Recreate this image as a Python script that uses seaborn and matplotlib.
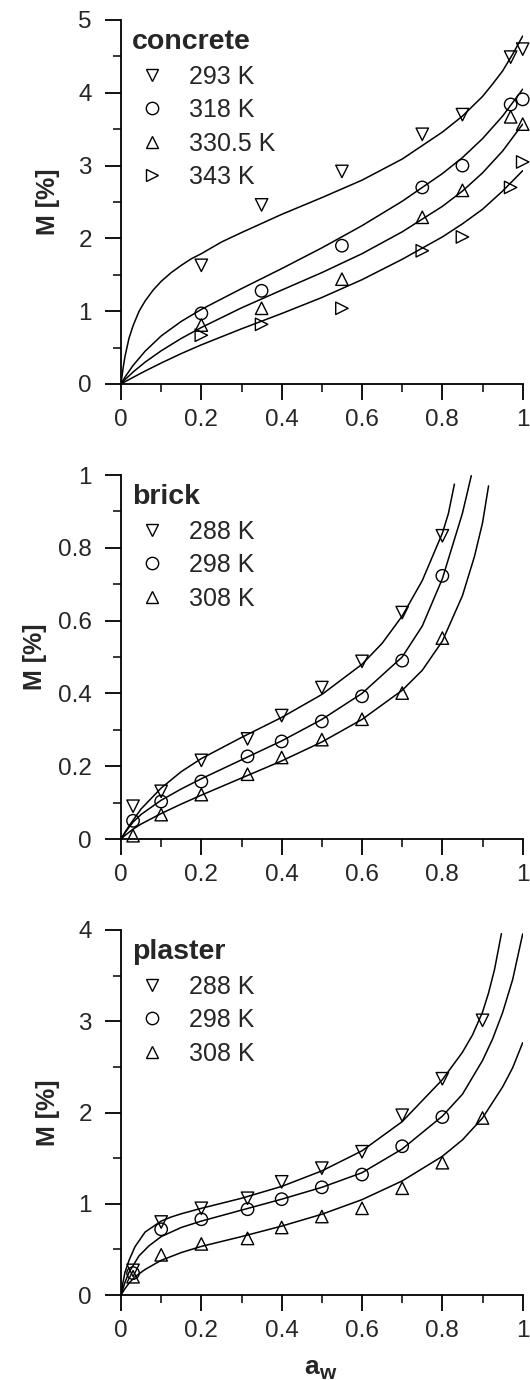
"""Moisture sorption isotherms of concrete, brick and plaster."""
import matplotlib

matplotlib.use("Agg")
import matplotlib.pyplot as plt
import pandas as pd
import seaborn as sns
from matplotlib.lines import Line2D
from matplotlib.ticker import FuncFormatter, MultipleLocator

# --- measured points -------------------------------------------------------
aw_concrete = [0.2, 0.35, 0.55, 0.75, 0.85, 0.97, 1.0]
m_concrete_293 = [1.63, 2.46, 2.92, 3.43, 3.70, 4.49, 4.60]
m_concrete_318 = [0.97, 1.28, 1.90, 2.70, 3.00, 3.84, 3.91]
m_concrete_330 = [0.81, 1.04, 1.44, 2.29, 2.66, 3.67, 3.57]
m_concrete_343 = [0.67, 0.82, 1.04, 1.83, 2.02, 2.70, 3.05]

aw_brick = [0.03, 0.1, 0.2, 0.315, 0.4, 0.5, 0.6, 0.7, 0.8]
m_brick_288 = [0.090, 0.131, 0.216, 0.275, 0.339, 0.416, 0.488, 0.622, 0.833]
m_brick_298 = [0.050, 0.103, 0.158, 0.227, 0.268, 0.323, 0.392, 0.490, 0.723]
m_brick_308 = [0.009, 0.067, 0.122, 0.178, 0.224, 0.273, 0.329, 0.401, 0.552]

aw_plaster = [0.03, 0.1, 0.2, 0.315, 0.4, 0.5, 0.6, 0.7, 0.8, 0.9]
aw_plaster_298 = [0.03, 0.1, 0.2, 0.315, 0.4, 0.5, 0.6, 0.7, 0.8]
m_plaster_288 = [0.27, 0.80, 0.95, 1.06, 1.24, 1.39, 1.57, 1.97, 2.37, 3.01]
m_plaster_298 = [0.24, 0.72, 0.83, 0.94, 1.05, 1.18, 1.32, 1.63, 1.95]
m_plaster_308 = [0.20, 0.44, 0.56, 0.62, 0.74, 0.86, 0.95, 1.17, 1.45, 1.94]

# --- fitted curves ----------------------------------------------------------
fit_concrete_293_x = [0, 0.005, 0.01, 0.02, 0.03, 0.045, 0.06, 0.08, 0.1,
                      0.125, 0.15, 0.175, 0.2, 0.25, 0.3, 0.4, 0.5, 0.6, 0.7,
                      0.8, 0.85, 0.9, 0.925, 0.95, 0.975, 1.0]
fit_concrete_293 = [0, 0.21, 0.38, 0.63, 0.80, 1.00, 1.14, 1.29, 1.41, 1.53,
                    1.63, 1.72, 1.79, 1.95, 2.08, 2.33, 2.56, 2.80, 3.09,
                    3.46, 3.68, 3.95, 4.12, 4.30, 4.53, 4.78]
fit_concrete_x = [0, 0.005, 0.01, 0.03, 0.06, 0.1, 0.15, 0.2, 0.3, 0.4, 0.5,
                  0.6, 0.7, 0.8, 0.85, 0.9, 0.95, 1.0]
fit_concrete_318 = [0, 0.05, 0.095, 0.255, 0.45, 0.66, 0.86, 1.025, 1.31,
                    1.585, 1.87, 2.175, 2.51, 2.89, 3.11, 3.37, 3.68, 4.05]
fit_concrete_330 = [0, 0.03, 0.06, 0.164, 0.30, 0.456, 0.626, 0.776, 1.046,
                    1.29, 1.53, 1.79, 2.09, 2.44, 2.65, 2.90, 3.20, 3.57]
fit_concrete_343 = [0, 0.016, 0.031, 0.091, 0.178, 0.288, 0.418, 0.538,
                    0.758, 0.968, 1.188, 1.433, 1.713, 2.02, 2.20, 2.40,
                    2.65, 2.93]

fit_brick_288_x = [0, 0.01, 0.02, 0.05, 0.1, 0.15, 0.2, 0.3, 0.4, 0.5, 0.6,
                   0.65, 0.7, 0.75, 0.8, 0.815, 0.83]
fit_brick_288 = [0, 0.0185, 0.036, 0.0825, 0.14, 0.185, 0.221, 0.279, 0.334,
                 0.397, 0.48, 0.5375, 0.6125, 0.71, 0.84, 0.894, 0.975]
fit_brick_298_x = [0, 0.01, 0.03, 0.05, 0.1, 0.15, 0.2, 0.3, 0.4, 0.5, 0.6,
                   0.7, 0.75, 0.8, 0.85, 0.872]
fit_brick_298 = [0, 0.0175, 0.0465, 0.0675, 0.1065, 0.1375, 0.1655, 0.2175,
                 0.2695, 0.3285, 0.40, 0.50, 0.585, 0.715, 0.895, 0.998]
fit_brick_308_x = [0, 0.01, 0.03, 0.05, 0.1, 0.15, 0.2, 0.3, 0.4, 0.5, 0.6,
                   0.7, 0.75, 0.8, 0.85, 0.88, 0.9, 0.915]
fit_brick_308 = [0, 0.010, 0.027, 0.041, 0.070, 0.096, 0.1205, 0.1675,
                 0.2145, 0.2665, 0.3285, 0.4085, 0.4635, 0.5435, 0.6685,
                 0.7765, 0.8685, 0.97]

fit_plaster_288_x = [0, 0.005, 0.01, 0.02, 0.035, 0.06, 0.08, 0.1, 0.125,
                     0.15, 0.2, 0.3, 0.4, 0.5, 0.6, 0.7, 0.8, 0.85, 0.875,
                     0.9, 0.915, 0.93, 0.947]
fit_plaster_288 = [0, 0.14, 0.25, 0.38, 0.53, 0.69, 0.75, 0.81, 0.855, 0.89,
                   0.95, 1.06, 1.19, 1.36, 1.58, 1.90, 2.36, 2.66, 2.85,
                   3.10, 3.31, 3.57, 3.96]
fit_plaster_298_x = [0, 0.01, 0.02, 0.045, 0.07, 0.1, 0.15, 0.2, 0.3, 0.4,
                     0.5, 0.6, 0.7, 0.8, 0.85, 0.9, 0.925, 0.95, 0.975, 1.0]
fit_plaster_298 = [0, 0.14, 0.25, 0.43, 0.54, 0.64, 0.74, 0.81, 0.93, 1.05,
                   1.18, 1.34, 1.60, 1.96, 2.20, 2.57, 2.805, 3.095, 3.457,
                   3.957]
fit_plaster_308_x = [0, 0.01, 0.02, 0.035, 0.06, 0.1, 0.15, 0.2, 0.3, 0.4,
                     0.5, 0.6, 0.7, 0.8, 0.85, 0.9, 0.95, 0.975, 1.0]
fit_plaster_308 = [0, 0.07, 0.13, 0.20, 0.28, 0.38, 0.465, 0.5325, 0.64,
                   0.755, 0.885, 1.045, 1.25, 1.52, 1.70, 1.94, 2.28, 2.49,
                   2.765]


def draw_panel(ax, name, series, curves, ymax, ystep, label_x):
    """Draw one isotherm panel: points, fitted lines and legend."""
    handles, labels = [], []
    for label, marker, x, y in series:
        df = pd.DataFrame({"aw": x, "M": y})
        sns.scatterplot(data=df, x="aw", y="M", marker=marker, s=80,
                        facecolor="none", edgecolor="black", linewidth=1.0,
                        clip_on=False, zorder=3, ax=ax)
        handles.append(Line2D([], [], marker=marker, linestyle="none",
                              markersize=8.9, markerfacecolor="none",
                              markeredgecolor="black", markeredgewidth=1.0))
        labels.append(label)
    for cx, cy in curves:
        sns.lineplot(x=cx, y=cy, color="black", linewidth=1.1,
                     estimator=None, sort=False, ax=ax)

    ax.set_xlim(0, 1)
    ax.set_ylim(0, ymax)
    ax.xaxis.set_major_locator(MultipleLocator(0.2))
    ax.xaxis.set_minor_locator(MultipleLocator(0.1))
    ax.yaxis.set_major_locator(MultipleLocator(ystep))
    ax.yaxis.set_minor_locator(MultipleLocator(ystep / 2))
    ax.xaxis.set_major_formatter(FuncFormatter(lambda v, _: f"{v:g}"))
    ax.yaxis.set_major_formatter(FuncFormatter(lambda v, _: f"{v:g}"))
    ax.tick_params(which="major", direction="out", length=11.5, width=1.3,
                   labelsize=17.5, color="black")
    ax.tick_params(axis="y", which="major", pad=9.5)
    ax.tick_params(axis="x", which="major", pad=6.5)
    ax.tick_params(which="minor", direction="out", length=5.8, width=1.3)
    sns.despine(ax=ax)
    for side in ("left", "bottom"):
        ax.spines[side].set_linewidth(1.3)
        ax.spines[side].set_color("black")

    ax.set_xlabel("")
    ax.set_ylabel("M [%]", fontsize=18, fontweight="bold")
    ax.yaxis.set_label_coords(label_x, 0.5)

    leg = ax.legend(handles, labels, title=name, loc="upper left",
                    bbox_to_anchor=(0.027, 0.975), frameon=False, fontsize=18,
                    title_fontproperties={"weight": "bold", "size": 20.5},
                    handlelength=1.6, handletextpad=0.68, labelspacing=0.38,
                    borderpad=0, borderaxespad=0)
    leg._legend_box.align = "left"


def main() -> None:
    sns.set_theme(style="ticks")
    plt.rcParams["font.family"] = ["Liberation Sans", "DejaVu Sans"]

    fig = plt.figure(figsize=(5.3, 13.8), dpi=100)
    left, width = 121 / 530, 401.7 / 530
    ax1 = fig.add_axes([left, 1 - 384 / 1380, width, 364 / 1380])
    ax2 = fig.add_axes([left, 1 - 839 / 1380, width, 364 / 1380])
    ax3 = fig.add_axes([left, 1 - 1295 / 1380, width, 365 / 1380])

    draw_panel(
        ax1, "concrete",
        [("293 K", "v", aw_concrete, m_concrete_293),
         ("318 K", "o", aw_concrete, m_concrete_318),
         ("330.5 K", "^", aw_concrete, m_concrete_330),
         ("343 K", ">", aw_concrete, m_concrete_343)],
        [(fit_concrete_293_x, fit_concrete_293),
         (fit_concrete_x, fit_concrete_318),
         (fit_concrete_x, fit_concrete_330),
         (fit_concrete_x, fit_concrete_343)],
        5, 1, -0.152)
    draw_panel(
        ax2, "brick",
        [("288 K", "v", aw_brick, m_brick_288),
         ("298 K", "o", aw_brick, m_brick_298),
         ("308 K", "^", aw_brick, m_brick_308)],
        [(fit_brick_288_x, fit_brick_288), (fit_brick_298_x, fit_brick_298),
         (fit_brick_308_x, fit_brick_308)],
        1, 0.2, -0.185)
    draw_panel(
        ax3, "plaster",
        [("288 K", "v", aw_plaster, m_plaster_288),
         ("298 K", "o", aw_plaster_298, m_plaster_298),
         ("308 K", "^", aw_plaster, m_plaster_308)],
        [(fit_plaster_288_x, fit_plaster_288),
         (fit_plaster_298_x, fit_plaster_298),
         (fit_plaster_308_x, fit_plaster_308)],
        4, 1, -0.152)

    # x label: bold "a" with a lowered "w"
    ax3.text(0.4556, -0.2164, "a", transform=ax3.transAxes, ha="left",
             va="baseline", fontsize=19, fontweight="bold")
    ax3.text(0.4929, -0.229, "w", transform=ax3.transAxes, ha="left",
             va="baseline", fontsize=15, fontweight="bold")

    fig.savefig("out.png", dpi=100)
    plt.close(fig)


if __name__ == "__main__":
    main()
